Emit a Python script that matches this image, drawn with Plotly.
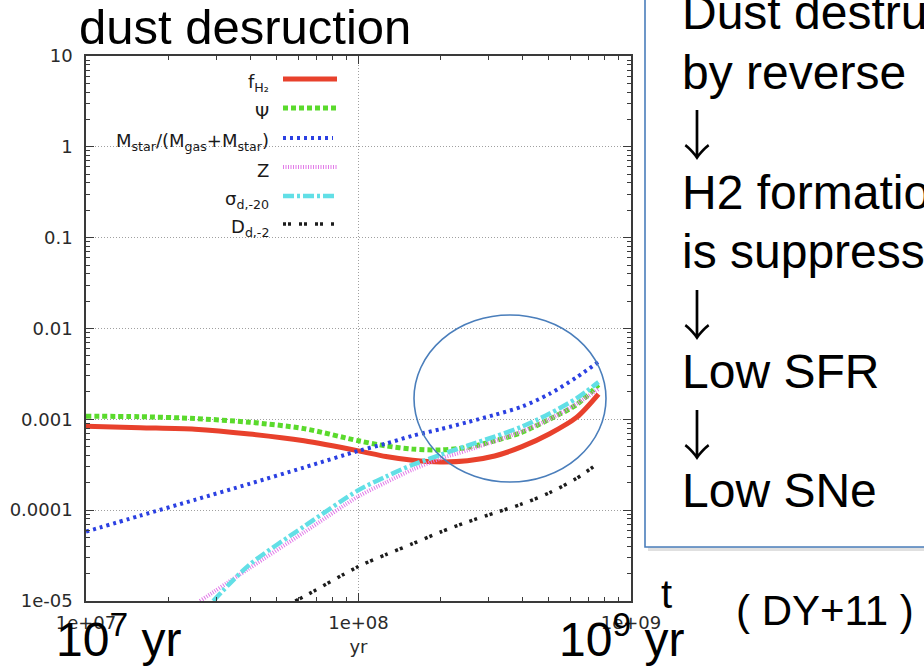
import plotly.graph_objects as go

# ---- data: time in years, quantities on a log scale ----
years = [1.0e7, 1.58e7, 2.51e7, 3.98e7, 6.31e7, 1.0e8, 1.26e8, 1.58e8,
         2.0e8, 2.51e8, 3.16e8, 3.98e8, 5.01e8, 6.31e8, 7.6e8]
f_h2 = [8.4e-4, 8.1e-4, 7.8e-4, 6.9e-4, 5.8e-4, 4.5e-4, 3.9e-4, 3.55e-4,
        3.4e-4, 3.5e-4, 3.95e-4, 5.0e-4, 6.9e-4, 1.05e-3, 1.9e-3]
psi = [1.08e-3, 1.07e-3, 1.02e-3, 9.3e-4, 7.9e-4, 5.8e-4, 5.1e-4, 4.7e-4,
       4.6e-4, 4.9e-4, 5.8e-4, 7.2e-4, 1.0e-3, 1.45e-3, 2.4e-3]
mstar_frac = [5.8e-5, 8.7e-5, 1.3e-4, 1.95e-4, 2.95e-4, 4.5e-4, 5.4e-4, 6.6e-4,
              7.8e-4, 9.3e-4, 1.12e-3, 1.38e-3, 1.9e-3, 2.9e-3, 4.3e-3]

years_z = [2.62e7, 3.98e7, 6.31e7, 1.0e8, 1.26e8, 1.58e8, 2.0e8, 2.51e8,
           3.16e8, 3.98e8, 5.01e8, 6.31e8, 7.6e8]
metal_z = [1.0e-5, 2.3e-5, 5.7e-5, 1.42e-4, 2.02e-4, 2.8e-4, 3.7e-4, 4.55e-4,
           5.75e-4, 7.4e-4, 1.0e-3, 1.48e-3, 2.15e-3]

years_sigma = [2.93e7, 3.98e7, 6.31e7, 1.0e8, 1.26e8, 1.58e8, 2.0e8, 2.51e8,
               3.16e8, 3.98e8, 5.01e8, 6.31e8, 7.6e8]
sigma_d = [1.0e-5, 2.51e-5, 6.61e-5, 1.66e-4, 2.34e-4, 3.16e-4, 4.07e-4, 5.13e-4,
           6.46e-4, 8.32e-4, 1.15e-3, 1.70e-3, 2.57e-3]

years_d = [5.86e7, 6.31e7, 1.0e8, 1.26e8, 1.58e8, 2.0e8, 2.51e8, 3.16e8,
           3.98e8, 5.01e8, 6.31e8, 7.6e8]
dust_d = [1.0e-5, 1.12e-5, 2.4e-5, 3.24e-5, 4.27e-5, 5.75e-5, 7.41e-5, 9.33e-5,
          1.17e-4, 1.55e-4, 2.24e-4, 3.31e-4]

x_tick_vals = [1e7, 1e8, 1e9]
x_tick_text = ["1e+07", "1e+08", "1e+09"]
y_tick_vals = [1e-5, 1e-4, 1e-3, 1e-2, 1e-1, 1, 10]
y_tick_text = ["1e-05", "0.0001", "0.001", "0.01", "0.1", "1", "10"]

labels = ["f<sub>H₂</sub>", "Ψ", "M<sub>star</sub>/(M<sub>gas</sub>+M<sub>star</sub>)",
          "Z", "σ<sub>d,-20</sub>", "D<sub>d,-2</sub>"]

box_lines = ["Dust destruction", "by reverse", "↓", "H2 formation",
             "is suppressed", "↓", "Low SFR", "↓", "Low SNe"]

# ---- figure geometry (pixels) ----
W, H = 924, 667
L, R, T, B = 86, 631, 56, 601          # plot area edges
PW, PH = R - L, B - T

def px(x):
    return (x - L) / PW

def py(y):
    return (B - y) / PH

FONT = "Liberation Sans, Arial, sans-serif"
PLOT_FONT = "DejaVu Sans, sans-serif"
ARROW_FONT = "Noto Sans CJK JP, DejaVu Sans, sans-serif"
TXT = "#2a2a2a"

styles = [
    dict(color="#e8412c", width=5, dash="solid"),
    dict(color="#5ada2c", width=5, dash="5px,3px"),
    dict(color="#2b40e2", width=4, dash="3px,4px"),
    dict(color="#e27ae8", width=4, dash="1px,1.5px"),
    dict(color="#62dfe6", width=4.5, dash="11px,3px,3px,3px"),
    dict(color="#1c1c1c", width=3.5, dash="3px,2px,3px,8px"),
]

series = [
    (years, f_h2),
    (years, psi),
    (years, mstar_frac),
    (years_z, metal_z),
    (years_sigma, sigma_d),
    (years_d, dust_d),
]

fig = go.Figure()
for (xs, ys), st, name in zip(series, styles, labels):
    fig.add_trace(go.Scatter(
        x=xs, y=ys, mode="lines", name=name, showlegend=False,
        line=dict(color=st["color"], width=st["width"], dash=st["dash"],
                  shape="spline", smoothing=0.8),
        hoverinfo="skip",
    ))

minor_x = [k * 10 ** e for e in (7, 8) for k in range(2, 10)]
minor_y = [k * 10.0 ** e for e in range(-5, 1) for k in range(2, 10)]

axis_common = dict(
    type="log", showline=True, linecolor="#3a3a3a", linewidth=1.5,
    mirror="allticks", ticks="inside", ticklen=8, tickwidth=1.2,
    tickcolor="#3a3a3a", showgrid=True, gridcolor="#a0a0a0",
    griddash="1px,2px", gridwidth=1, zeroline=False, automargin=False,
    tickfont=dict(family=PLOT_FONT, size=18, color=TXT),
)

fig.update_xaxes(
    **axis_common, range=[7, 9], tickvals=x_tick_vals, ticktext=x_tick_text,
    minor=dict(tickvals=minor_x, ticks="inside", ticklen=4,
               tickcolor="#3a3a3a", showgrid=False),
    ticklabelstandoff=5,
    title=dict(text="yr", font=dict(family=PLOT_FONT, size=18, color=TXT), standoff=8),
)
fig.update_yaxes(
    **axis_common, range=[-5, 1], tickvals=y_tick_vals, ticktext=y_tick_text,
    minor=dict(tickvals=minor_y, ticks="inside", ticklen=4,
               tickcolor="#3a3a3a", showgrid=False),
    ticklabelstandoff=8,
)

shapes = []
# opaque key area hides the grid behind the legend
shapes.append(dict(type="rect", xref="x", yref="y", x0=7.004, x1=7.963,
                   y0=-1.03, y1=0.99, fillcolor="white", line=dict(width=0),
                   layer="below"))

# key samples
rows = [79, 108, 138, 167, 196, 224]
sample_end = [337, 337, 333, 337, 337, 334]
annotations = []
for row, end, st, name in zip(rows, sample_end, styles, labels):
    shapes.append(dict(type="line", xref="paper", yref="paper",
                       x0=px(283), x1=px(end), y0=py(row), y1=py(row),
                       line=dict(color=st["color"], width=st["width"], dash=st["dash"]),
                       layer="above"))
    annotations.append(dict(xref="paper", yref="paper", x=px(271), y=py(row + 4),
                            xanchor="right", yanchor="middle", text=name,
                            showarrow=False,
                            font=dict(family=PLOT_FONT, size=18, color="#1a1a1a")))

# highlight ellipse
shapes.append(dict(type="circle", xref="paper", yref="paper",
                   x0=px(414), x1=px(606), y0=py(482), y1=py(315),
                   line=dict(color="#4a7ebb", width=1.6), layer="above"))

# explanation box with a soft shadow
shapes.append(dict(type="rect", xref="paper", yref="paper",
                   x0=px(648), x1=px(940), y0=py(551), y1=py(-10),
                   fillcolor="rgba(0,0,0,0.12)", line=dict(width=0), layer="above"))
shapes.append(dict(type="rect", xref="paper", yref="paper",
                   x0=px(645), x1=px(940), y0=py(547), y1=py(-10),
                   fillcolor="white", line=dict(color="#4a7ebb", width=1.6),
                   layer="above"))

BIG = dict(family=FONT, size=48, color="black")
ARROW = dict(family=ARROW_FONT, size=54, color="black", weight=300)
baselines = [29, 89, 149, 209, 268, 328, 388, 448, 507]
for line, base in zip(box_lines, baselines):
    is_arrow = line == "↓"
    annotations.append(dict(xref="paper", yref="paper",
                            x=px(668 if is_arrow else 680),
                            y=py(base - (16 if is_arrow else 16.5)),
                            xanchor="left", yanchor="middle", text=line,
                            showarrow=False, font=ARROW if is_arrow else BIG))

annotations += [
    dict(xref="paper", yref="paper", x=px(77), y=py(43 - 16.5), xanchor="left",
         yanchor="middle", text="dust desruction", showarrow=False,
         font=dict(family=FONT, size=49, color="black")),
    dict(xref="paper", yref="paper", x=px(54), y=py(656 - 20), xanchor="left",
         yanchor="middle", text="10<sup>7</sup> yr", showarrow=False, font=BIG),
    dict(xref="paper", yref="paper", x=px(557), y=py(656 - 20), xanchor="left",
         yanchor="middle", text="10<sup>9</sup> yr", showarrow=False, font=BIG),
    dict(xref="paper", yref="paper", x=px(666), y=py(608 - 14), xanchor="center",
         yanchor="middle", text="t", showarrow=False,
         font=dict(family=FONT, size=40, color="black")),
    dict(xref="paper", yref="paper", x=px(734), y=py(625 - 14.5), xanchor="left",
         yanchor="middle", text="( DY+11 )", showarrow=False,
         font=dict(family=FONT, size=42, color="black")),
]

fig.update_layout(
    width=W, height=H,
    margin=dict(l=L, r=W - R, t=T, b=H - B, pad=0, autoexpand=False),
    paper_bgcolor="white", plot_bgcolor="white",
    showlegend=False, shapes=shapes, annotations=annotations,
)

fig.write_html("out.html", config=dict(displayModeBar=False))
